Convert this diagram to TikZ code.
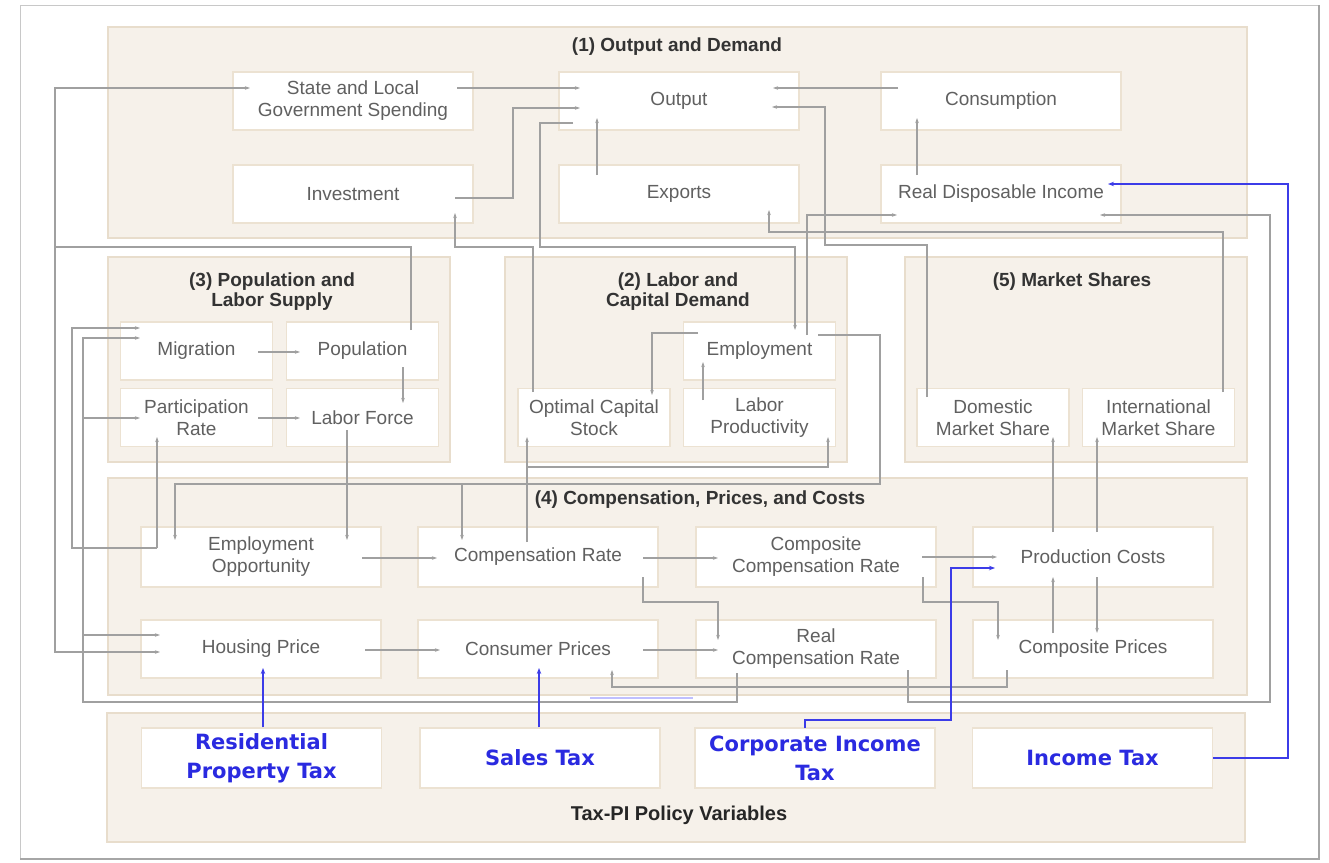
\documentclass[tikz,border=0pt]{standalone}
\usepackage{fontspec}
\setmainfont{Liberation Sans}
\newfontfamily\taxfont{DejaVu Sans}
\usetikzlibrary{arrows.meta,calc}
\definecolor{panelfill}{HTML}{F6F1EA}
\definecolor{panelline}{HTML}{E8DDCC}
\definecolor{boxline}{HTML}{ECE2D2}
\definecolor{conn}{HTML}{A0A0A0}
\definecolor{txt}{HTML}{606060}
\definecolor{ttlc}{HTML}{333333}
\definecolor{taxblue}{HTML}{2A2AE0}
\definecolor{bluel}{HTML}{3C3CE8}
\definecolor{framec}{HTML}{C8C8C8}
\begin{document}
\begin{tikzpicture}[x=1pt,y=-1pt,
 panel/.style={draw=panelline, fill=panelfill, line width=1.2pt},
 box/.style={draw=boxline, fill=white, line width=1.2pt, inner sep=0pt, align=center, text=txt, font=\fontsize{19}{22}\selectfont},
 ttl/.style={font=\bfseries\fontsize{19}{20}\selectfont, text=ttlc, align=center, inner sep=0pt},
 taxbox/.style={box, text=taxblue, font=\taxfont\bfseries\fontsize{21}{29}\selectfont},
 arr/.style={draw=conn, line width=1.1pt, -{Stealth[length=5pt,width=3.5pt]}},
 barr/.style={draw=bluel, line width=1.4pt, -{Stealth[length=6pt,width=4.5pt]}},
 bw/.style={minimum width=240pt, minimum height=58pt},
 sw/.style={minimum width=152pt, minimum height=58pt},
]
\useasboundingbox (0,0) rectangle (1329,862);
\fill[white] (0,0) rectangle (1329,862);
\draw[framec, line width=1pt] (20,5) rectangle (1318,858);
\draw[gray!70, line width=2pt] (1319,5) -- (1319,859) -- (20,859);

% panels
\draw[panel] (108,27) rectangle (1247,238);
\draw[panel] (108,257) rectangle (450,462);
\draw[panel] (505,257) rectangle (847,462);
\draw[panel] (905,257) rectangle (1247,462);
\draw[panel] (108,478) rectangle (1247,695);
\draw[panel] (107,713) rectangle (1245,842);

% titles
\node[ttl] (ttl1) at (677,47) {(1) Output and Demand};
\node[ttl] (ttl3) at (272,292) {(3) Population and\\Labor Supply};
\node[ttl] (ttl2) at (678,292) {(2) Labor and\\Capital Demand};
\node[ttl] (ttl5) at (1072,282) {(5) Market Shares};
\node[ttl] (ttl4) at (700,500) {(4) Compensation, Prices, and Costs};
\node[ttl, font=\bfseries\fontsize{20}{22}\selectfont, text=black!85] (ttlt) at (679,815) {Tax-PI Policy Variables};

% panel 1 boxes
\node[box, bw] (stlg) at (353,101) {State and Local\\Government Spending};
\node[box, bw] (outp) at (679,101) {Output};
\node[box, bw] (cons) at (1001,101) {Consumption};
\node[box, bw] (inv) at (353,194) {Investment};
\node[box, bw] (exp) at (679,194) {Exports};
\node[box, bw] (rdi) at (1001,194) {Real Disposable Income};

% panel 3
\node[box, sw] (migr) at (196.5,351) {Migration};
\node[box, sw] (pop) at (362.5,351) {Population};
\node[box, sw] (part) at (196.5,417.5) {Participation\\Rate};
\node[box, sw] (labf) at (362.5,417.5) {Labor Force};
% panel 2
\node[box, sw] (empl) at (759.5,351) {Employment};
\node[box, sw] (ocs) at (594,417.5) {Optimal Capital\\Stock};
\node[box, sw] (lprod) at (759.5,417.5) {Labor\\Productivity};
% panel 5
\node[box, sw] (dms) at (993,417.5) {Domestic\\Market Share};
\node[box, sw] (ims) at (1158.5,417.5) {International\\Market Share};

% panel 4
\node[box, bw, minimum height=60pt] (eo) at (261,557) {Employment\\Opportunity};
\node[box, bw, minimum height=60pt] (comp) at (538,557) {Compensation Rate};
\node[box, bw, minimum height=60pt] (ccr) at (816,557) {Composite\\Compensation Rate};
\node[box, bw, minimum height=60pt] (pc) at (1093,557) {Production Costs};
\node[box, bw] (hp) at (261,649) {Housing Price};
\node[box, bw] (cp) at (538,649) {Consumer Prices};
\node[box, bw] (rcr) at (816,649) {Real\\Compensation Rate};
\node[box, bw] (cpr) at (1093,649) {Composite Prices};

% tax boxes
\node[taxbox, bw, minimum height=60pt] (t1) at (261.5,758) {Residential\\Property Tax};
\node[taxbox, bw, minimum height=60pt] (t2) at (540,758) {Sales Tax};
\node[taxbox, bw, minimum height=60pt] (t3) at (815,758) {Corporate Income\\Tax};
\node[taxbox, bw, minimum height=60pt] (t4) at (1092.5,758) {Income Tax};

% junctions
\coordinate (j1) at (55,247);
\coordinate (j2) at (157,548);
\coordinate (j3) at (83,418);
\coordinate (j4) at (83,635);
\coordinate (j5) at (462,484);
\coordinate (j6) at (527,467);

% connectors panel 1
\draw[arr] ($(stlg.center)+(104,-13)$) -- ($(outp.center)+(-99,-13)$);
\draw[arr] ($(inv.center)+(102,4)$) -| (513,108) -- ($(outp.center)+(-99,7)$);
\draw[arr] ($(exp.center)+(-82,-19)$) -- ($(outp.center)+(-82,17)$);
\draw[arr] ($(cons.center)+(-103,-13)$) -- ($(outp.center)+(94,-13)$);
\draw[arr] ($(rdi.center)+(-84,-19)$) -- ($(cons.center)+(-84,17)$);
% long links
\draw[arr] ($(outp.center)+(-106,22)$) -- (540,123) -- (540,247) -| ($(empl.center)+(35.5,-21)$);
\draw[arr] ($(ocs.center)+(-61,-25.5)$) -- (533,247) -| ($(inv.center)+(102,19)$);
\draw[arr] ($(empl.center)+(47.5,-16)$) |- ($(rdi.center)+(-104,21)$);
\draw[arr] ($(dms.center)+(-66,-20.5)$) -- (927,245) -- (825,245) |- ($(outp.center)+(93,6)$);
\draw[arr] ($(ims.center)+(64.5,-25.5)$) -- (1223,232) -| ($(exp.center)+(90,16)$);
\draw[arr] ($(rcr.center)+(92,21)$) -- (908,702) -- (1270,702) |- ($(rdi.center)+(99,21)$);
\draw[arr] ($(pop.center)+(48.5,-21)$) |- (j1) |- ($(stlg.center)+(-103,-13)$);
\draw[arr] (j1) |- ($(hp.center)+(-101,3)$);
% panel 3
\draw[arr] ($(migr.center)+(61.5,1)$) -- ($(pop.center)+(-62.5,1)$);
\draw[arr] ($(pop.center)+(40.5,16)$) -- ($(labf.center)+(40.5,-14.5)$);
\draw[arr] ($(part.center)+(61.5,0.5)$) -- ($(labf.center)+(-62.5,0.5)$);
\draw[arr] ($(eo.center)+(-104,-9)$) -- ($(part.center)+(-39.5,19.5)$);
\draw[arr] (j2) -- (72,548) |- ($(migr.center)+(-56.5,-23)$);
\draw[arr] ($(rcr.center)+(-79,24)$) -- (737,702) -- (83,702) |- ($(migr.center)+(-56.5,-13)$);
\draw[arr] (j3) -- ($(part.center)+(-56.5,0.5)$);
\draw[arr] (j4) -- ($(hp.center)+(-101,-14)$);
\draw[arr] ($(labf.center)+(-15.5,12.5)$) -- ($(eo.center)+(86,-17)$);
% panel 2
\draw[arr] ($(empl.center)+(58.5,-16)$) -- (880,335) -- (880,484) -| ($(eo.center)+(-86,-17)$);
\draw[arr] (j5) -- ($(comp.center)+(-76,-17)$);
\draw[arr] ($(empl.center)+(-61.5,-18)$) -| ($(ocs.center)+(58,-22.5)$);
\draw[arr] ($(lprod.center)+(-56.5,-17.5)$) -- ($(empl.center)+(-56.5,11)$);
\draw[arr] ($(comp.center)+(-11,-15)$) -- ($(ocs.center)+(-67,19.5)$);
\draw[arr] (j6) -| ($(lprod.center)+(68.5,19.5)$);
% panel 4
\draw[arr] ($(eo.center)+(101,1)$) -- ($(comp.center)+(-101,1)$);
\draw[arr] ($(hp.center)+(104,1)$) -- ($(cp.center)+(-98,1)$);
\draw[arr] ($(comp.center)+(105,1)$) -- ($(ccr.center)+(-98,1)$);
\draw[arr] ($(comp.center)+(105,20)$) -- (643,602) -| ($(rcr.center)+(-98,-9)$);
\draw[arr] ($(cp.center)+(105,1)$) -- ($(rcr.center)+(-98,1)$);
\draw[arr] ($(cpr.center)+(-86,21)$) -- (1007,687) -| ($(cp.center)+(74,21)$);
\draw[arr] ($(ccr.center)+(106,0)$) -- ($(pc.center)+(-96,0)$);
\draw[arr] ($(ccr.center)+(107,20)$) -- (923,602) -| ($(cpr.center)+(-95,-9)$);
\draw[arr] ($(cpr.center)+(-40,-16)$) -- ($(pc.center)+(-40,20)$);
\draw[arr] ($(pc.center)+(4,20)$) -- ($(cpr.center)+(4,-16)$);
\draw[arr] ($(pc.center)+(-40,-25)$) -- ($(dms.center)+(60,19.5)$);
\draw[arr] ($(pc.center)+(4,-25)$) -- ($(ims.center)+(-61.5,19.5)$);
\draw[blue!25, line width=1.2pt] (590,698) -- (693,698);

% tax links
\draw[barr] (t4.east) -| (1288,184) -- ($(rdi.center)+(107,-10)$);
\draw[barr] ($(t3.center)+(-10,-30)$) -- (805,720) -| (951,568) -- ($(pc.center)+(-98,11)$);
\draw[barr] ($(t1.north)+(1.5,0)$) -- ($(hp.center)+(2,19)$);
\draw[barr] ($(t2.north)+(-1,0)$) -- ($(cp.center)+(1,19)$);
\end{tikzpicture}
\end{document}
